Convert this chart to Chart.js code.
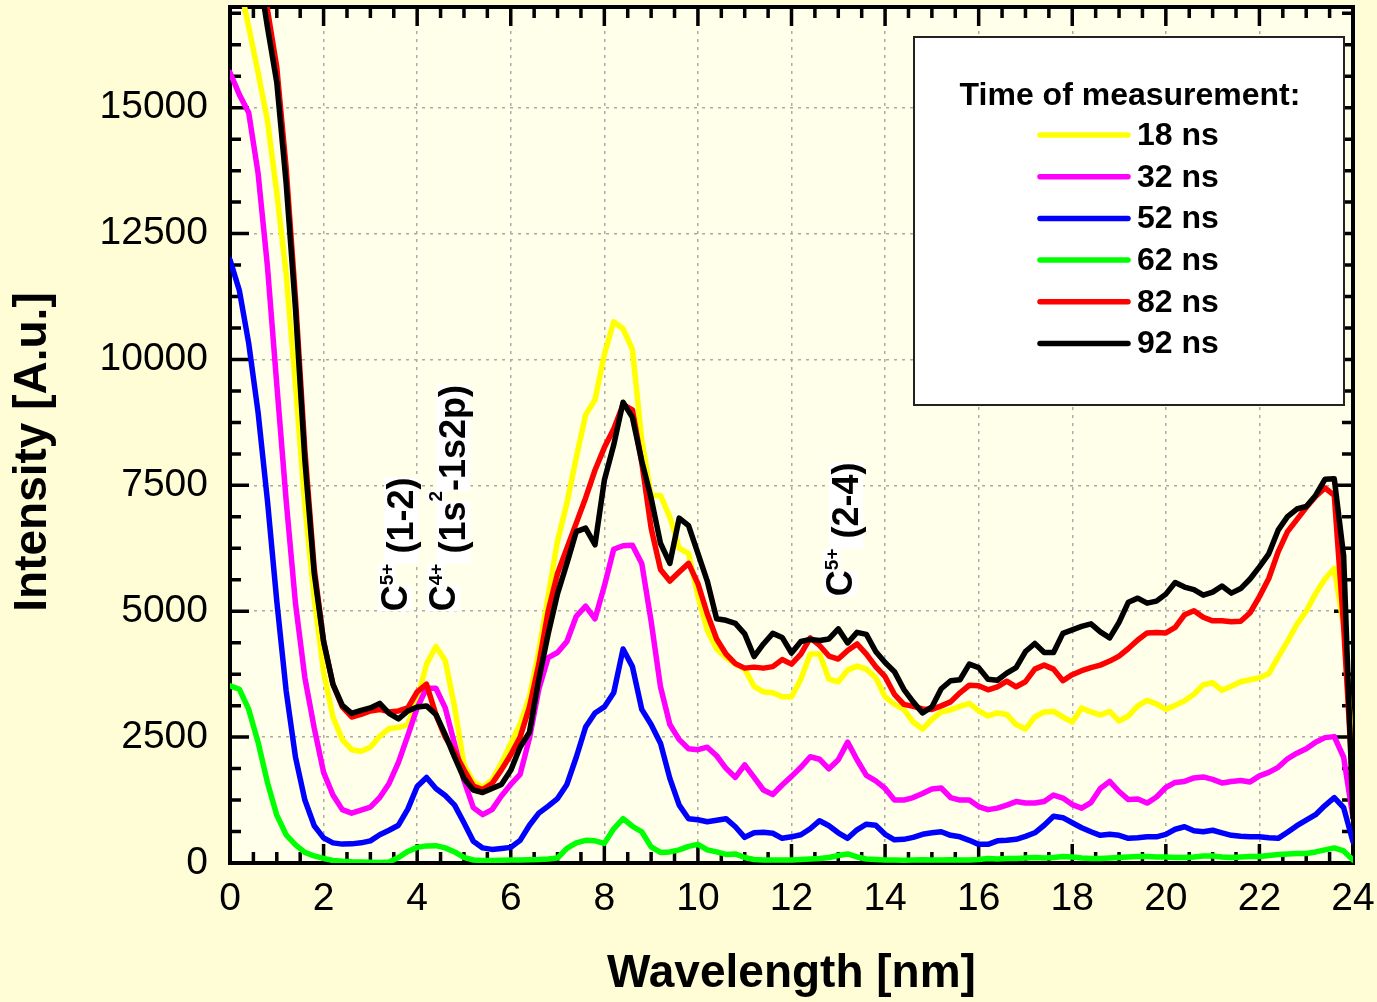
<!DOCTYPE html>
<html>
<head>
<meta charset="utf-8">
<title>Intensity x Wavelength</title>
<script src="https://cdn.jsdelivr.net/npm/chart.js@4.4.0/dist/chart.umd.min.js"></script>
<style>
  body { margin: 0; background: #fffdd5; }
  #grafico { display: block; }
</style>
</head>
<body>
<canvas id="grafico" width="1377" height="1002"></canvas>
<script>
// eixo x: comprimento de onda [nm], passo 0.2
var wavelength = [
  0.0, 0.2, 0.4, 0.6, 0.8,  1.0, 1.2, 1.4, 1.6, 1.8,  2.0, 2.2, 2.4, 2.6, 2.8,
  3.0, 3.2, 3.4, 3.6, 3.8,  4.0, 4.2, 4.4, 4.6, 4.8,  5.0, 5.2, 5.4, 5.6, 5.8,
  6.0, 6.2, 6.4, 6.6, 6.8,  7.0, 7.2, 7.4, 7.6, 7.8,  8.0, 8.2, 8.4, 8.6, 8.8,
  9.0, 9.2, 9.4, 9.6, 9.8,  10.0, 10.2, 10.4, 10.6, 10.8,  11.0, 11.2, 11.4, 11.6, 11.8,
  12.0, 12.2, 12.4, 12.6, 12.8,  13.0, 13.2, 13.4, 13.6, 13.8,  14.0, 14.2, 14.4, 14.6, 14.8,
  15.0, 15.2, 15.4, 15.6, 15.8,  16.0, 16.2, 16.4, 16.6, 16.8,  17.0, 17.2, 17.4, 17.6, 17.8,
  18.0, 18.2, 18.4, 18.6, 18.8,  19.0, 19.2, 19.4, 19.6, 19.8,  20.0, 20.2, 20.4, 20.6, 20.8,
  21.0, 21.2, 21.4, 21.6, 21.8,  22.0, 22.2, 22.4, 22.6, 22.8,  23.0, 23.2, 23.4, 23.6, 23.8,
  24.0
];

// intensidades [A.u.] (uma linha por nm)
var ns18 = [
  18800, 17500, 16600, 15700, 14750,
  13310, 11700, 9500, 7100, 5250,
  3800, 2900, 2450, 2250, 2220,
  2300, 2520, 2670, 2690, 2750,
  3250, 3950, 4300, 4020, 3100,
  1950, 1610, 1500, 1650, 1980,
  2370, 2760, 3300, 4200, 5300,
  6400, 7150, 8050, 8900, 9200,
  10100, 10750, 10610, 10200, 8400,
  7300, 7300, 6870, 6250, 6150,
  5300, 4620, 4250, 4080, 3950,
  3850, 3510, 3400, 3380, 3300,
  3300, 3650, 4150, 4150, 3650,
  3600, 3830, 3910, 3850, 3680,
  3300, 3150, 3050, 2800, 2660,
  2850, 3000, 3040, 3110, 3170,
  3020, 2920, 2980, 2950, 2750,
  2660, 2900, 3000, 3010, 2900,
  2800, 3080, 3000, 2940, 3010,
  2820, 2920, 3120, 3230, 3160,
  3050, 3130, 3220, 3350, 3540,
  3580, 3430, 3510, 3600, 3640,
  3680, 3760, 4090, 4400, 4740,
  5000, 5350, 5640, 5850, 4700,
  2000
];
var ns32 = [
  15700, 15260, 14900, 13700, 11850,
  9500, 7200, 5150, 3680, 2680,
  1800, 1350, 1060, 990, 1050,
  1110, 1300, 1580, 2000, 2530,
  3080, 3470, 3470, 3080, 2360,
  1640, 1100, 960, 1060, 1330,
  1560, 1760, 2480, 3450, 4080,
  4180, 4400, 4900, 5100, 4850,
  5500, 6230, 6300, 6310, 5950,
  4800, 3500, 2750, 2450, 2270,
  2250, 2300, 2130, 1880, 1700,
  1950, 1700, 1450, 1360, 1550,
  1720, 1900, 2110, 2060, 1870,
  2050, 2400, 2050, 1740, 1630,
  1480, 1250, 1250, 1300, 1380,
  1470, 1490, 1300, 1250, 1250,
  1120, 1060, 1090, 1150, 1220,
  1190, 1190, 1220, 1350, 1290,
  1160, 1090, 1200, 1480, 1620,
  1420, 1260, 1270, 1190, 1310,
  1500, 1600, 1620, 1690, 1710,
  1660, 1590, 1620, 1640, 1610,
  1730, 1800, 1900, 2070, 2180,
  2270, 2400, 2490, 2510, 2100,
  900
];
var ns52 = [
  11980, 11370, 10320, 8950, 7200,
  5200, 3420, 2100, 1250, 740,
  500, 400, 375, 380, 400,
  440, 560, 650, 750, 1070,
  1520, 1700, 1480, 1340, 1150,
  800, 430, 300, 270, 290,
  310, 450, 750, 990, 1130,
  1280, 1560, 2100, 2700, 2980,
  3100, 3380, 4250, 3900, 3050,
  2750, 2380, 1680, 1150, 880,
  860, 820, 850, 880, 720,
  510, 600, 610, 590, 490,
  520, 560, 680, 840, 740,
  600, 490, 660, 770, 750,
  570, 460, 470, 510, 570,
  600, 620, 550, 520, 450,
  370, 370, 440, 450, 470,
  530, 600, 750, 930, 900,
  800, 700, 620, 550, 570,
  550, 490, 500, 520, 520,
  570, 670, 720, 640, 620,
  650, 600, 550, 530, 520,
  520, 500, 490, 610, 740,
  850, 960, 1140, 1300, 1100,
  420
];
var ns62 = [
  3520, 3450, 3050, 2400, 1600,
  950, 560, 360, 210, 140,
  90, 50, 35, 25, 20,
  15, 10, 20, 110, 230,
  310, 340, 345, 300, 220,
  110, 60, 50, 50, 55,
  60, 60, 65, 70, 80,
  100, 290, 400, 450, 440,
  390, 680, 880, 730, 620,
  320, 210, 220, 260, 330,
  370, 260, 220, 170, 180,
  110, 70, 60, 60, 60,
  60, 70, 80, 90, 110,
  150, 180, 120, 80, 70,
  60, 60, 55, 60, 65,
  60, 60, 65, 60, 60,
  70, 90, 80, 90, 90,
  100, 110, 100, 110, 130,
  120, 100, 90, 90, 100,
  110, 120, 130, 130, 120,
  120, 110, 110, 120, 140,
  140, 120, 110, 120, 130,
  130, 150, 170, 180, 190,
  190, 220, 260, 300, 240,
  60
];
var ns82 = [
  23000, 21500, 20000, 18400, 16950,
  15800, 13800, 11200, 8200, 5850,
  4400, 3550, 3100, 2900, 2950,
  3020, 3050, 3000, 3020, 3080,
  3400, 3550, 2950, 2500, 2200,
  1850, 1530, 1460, 1580, 1850,
  2150, 2500, 3100, 3950, 5000,
  5750, 6250, 6750, 7250, 7800,
  8250, 8620, 9100, 9000, 7950,
  6650, 5830, 5600, 5780, 5950,
  5550, 4950, 4450, 4150, 3960,
  3870, 3890, 3870, 3900, 4040,
  3950, 4150, 4470, 4320, 4110,
  4050, 4220, 4350, 4150, 3900,
  3700, 3350, 3150, 3110, 3060,
  3050, 3120, 3200, 3380, 3530,
  3520, 3440, 3500, 3610, 3500,
  3600, 3850, 3930, 3850, 3620,
  3740, 3820, 3880, 3930, 4010,
  4110, 4260, 4430, 4570, 4580,
  4570, 4680, 4930, 5010, 4880,
  4810, 4810, 4790, 4800, 4970,
  5290, 5650, 6180, 6580, 6820,
  7060, 7280, 7450, 7300, 4700,
  1500
];
var ns92 = [
  22000, 20600, 19200, 17800, 16600,
  15500, 13500, 11000, 8000, 5750,
  4400, 3550, 3130, 2970, 3030,
  3080, 3170, 2970, 2860, 3020,
  3100, 3120, 2950, 2550, 2100,
  1680, 1450, 1400, 1480, 1560,
  1840, 2300, 2600, 3650, 4550,
  5350, 5950, 6580, 6650, 6320,
  7600, 8300, 9150, 8850, 7980,
  7250, 6350, 5950, 6850, 6700,
  6150, 5600, 4850, 4820, 4760,
  4550, 4100, 4350, 4560, 4480,
  4170, 4400, 4440, 4420, 4450,
  4650, 4370, 4580, 4540, 4200,
  3980, 3800, 3450, 3200, 2980,
  3100, 3460, 3620, 3640, 3950,
  3880, 3650, 3630, 3770, 3880,
  4200, 4360, 4180, 4180, 4560,
  4630, 4700, 4750, 4590, 4470,
  4780, 5180, 5260, 5160, 5200,
  5340, 5570, 5480, 5430, 5320,
  5380, 5500, 5360, 5450, 5640,
  5880, 6140, 6610, 6880, 7030,
  7080, 7300, 7620, 7630, 6100,
  900
];

var series = [ns18, ns32, ns52, ns62, ns82, ns92];
var legendas = ['18 ns', '32 ns', '52 ns', '62 ns', '82 ns', '92 ns'];
var cores = ['#ffff00', '#ff00ff', '#0000ff', '#00ff00', '#ff0000', '#000000'];

var xTicks = [0, 2, 4, 6, 8, 10, 12, 14, 16, 18, 20, 22, 24];
var yTicks = [0, 2500, 5000, 7500, 10000, 12500, 15000];

var FONTE = "'Liberation Sans', Arial, sans-serif";

// textos das linhas espectrais: [texto, superscrito?, deslocamento da linha base]
var anotacoes = [
  { x: 3.78, y: 5000, partes: [['C', 0, 0], ['5+', 1, -14], [' (1-2)', 0, 6]] },
  { x: 4.81, y: 5000, partes: [['C', 0, 0], ['4+', 1, -13], [' (1s', 0, 10], ['2', 1, -13], ['-1s2p)', 0, 10]] },
  { x: 13.29, y: 5300, partes: [['C', 0, 0], ['5+', 1, -14], [' (2-4)', 0, 6]] }
];

function montaDatasets() {
  var lista = [];
  for (var i = 0; i < series.length; i++) {
    var pontos = series[i].map(function (v, k) { return { x: wavelength[k], y: v }; });
    lista.push({
      label: legendas[i],
      data: pontos,
      borderColor: cores[i],
      backgroundColor: cores[i],
      borderWidth: 5.5,
      pointRadius: 0,
      tension: 0,
      fill: false,
      borderJoinStyle: 'round',
      borderCapStyle: 'round',
      order: series.length - i   // preto por cima
    });
  }
  return lista;
}

var fundo = {
  id: 'fundo',
  beforeDraw: function (chart) {
    var ctx = chart.ctx, a = chart.chartArea;
    ctx.save();
    ctx.fillStyle = '#fffdd5';
    ctx.fillRect(0, 0, chart.width, chart.height);
    ctx.fillStyle = '#ffffea';
    ctx.fillRect(a.left, a.top, a.right - a.left, a.bottom - a.top);
    ctx.restore();
  }
};

// moldura com tracos para dentro nos quatro lados + titulo do eixo y
var moldura = {
  id: 'moldura',
  beforeDatasetsDraw: function (chart) {
    var ctx = chart.ctx, a = chart.chartArea;
    var sx = chart.scales.x, sy = chart.scales.y;
    ctx.save();
    ctx.strokeStyle = '#000';
    ctx.lineWidth = 3.5;
    ctx.beginPath();
    for (var v = 0; v <= 24.001; v += 0.5) {
      var px = sx.getPixelForValue(v);
      var len = (Math.abs(v / 2 - Math.round(v / 2)) < 1e-6) ? 19 : 11;
      ctx.moveTo(px, a.bottom); ctx.lineTo(px, a.bottom - len);
      ctx.moveTo(px, a.top); ctx.lineTo(px, a.top + len);
    }
    for (var w = 0; w <= 17000; w += 625) {
      var py = sy.getPixelForValue(w);
      var len2 = (w % 2500 === 0) ? 19 : 11;
      ctx.moveTo(a.left, py); ctx.lineTo(a.left + len2, py);
      ctx.moveTo(a.right, py); ctx.lineTo(a.right - len2, py);
    }
    ctx.stroke();
    ctx.lineWidth = 4;
    ctx.strokeRect(a.left, a.top, a.right - a.left, a.bottom - a.top);

    ctx.translate(33, 452);
    ctx.rotate(-Math.PI / 2);
    ctx.fillStyle = '#000';
    ctx.font = 'bold 46px ' + FONTE;
    ctx.textAlign = 'center';
    ctx.textBaseline = 'middle';
    ctx.fillText('Intensity [A.u.]', 0, 0);
    ctx.restore();
  }
};

function desenhaAnotacao(ctx, px, py, partes) {
  ctx.save();
  ctx.translate(px, py);
  ctx.rotate(-Math.PI / 2);
  ctx.textBaseline = 'alphabetic';
  ctx.textAlign = 'left';
  var pos = 0;
  partes.forEach(function (p) {
    var tam = p[1] ? 19 : 36;
    ctx.font = 'bold ' + tam + 'px ' + FONTE;
    var larg = ctx.measureText(p[0]).width;
    ctx.fillStyle = '#ffffff';
    ctx.fillRect(pos, p[2] - tam * 0.8, larg, tam * 0.95);
    ctx.fillStyle = '#000';
    ctx.fillText(p[0], pos, p[2]);
    pos += larg;
  });
  ctx.restore();
}

var textos = {
  id: 'textos',
  afterDatasetsDraw: function (chart) {
    var sx = chart.scales.x, sy = chart.scales.y;
    anotacoes.forEach(function (an) {
      desenhaAnotacao(chart.ctx, sx.getPixelForValue(an.x), sy.getPixelForValue(an.y), an.partes);
    });
  }
};

var legenda = {
  id: 'legenda',
  afterDraw: function (chart) {
    var ctx = chart.ctx;
    ctx.save();
    ctx.fillStyle = '#ffffff';
    ctx.fillRect(914, 37, 430, 368);
    ctx.strokeStyle = '#222';
    ctx.lineWidth = 2;
    ctx.strokeRect(914, 37, 430, 368);
    ctx.fillStyle = '#000';
    ctx.font = 'bold 32px ' + FONTE;
    ctx.textAlign = 'center';
    ctx.textBaseline = 'alphabetic';
    ctx.fillText('Time of measurement:', 1130, 105);
    ctx.textAlign = 'left';
    ctx.textBaseline = 'middle';
    chart.data.datasets.forEach(function (ds, i) {
      var yy = 135 + i * 41.7;
      ctx.strokeStyle = ds.borderColor;
      ctx.lineWidth = 5.5;
      ctx.lineCap = 'round';
      ctx.beginPath();
      ctx.moveTo(1040, yy);
      ctx.lineTo(1128, yy);
      ctx.stroke();
      ctx.fillText(ds.label, 1137, yy + 1);
    });
    ctx.restore();
  }
};

var config = {
  type: 'line',
  data: { datasets: montaDatasets() },
  options: {
    responsive: false,
    animation: false,
    layout: { padding: { top: 7, right: 24, left: 0, bottom: 0 } },
    plugins: {
      legend: { display: false },
      tooltip: { enabled: false }
    },
    scales: {
      x: {
        type: 'linear',
        min: 0,
        max: 24,
        afterBuildTicks: function (s) { s.ticks = xTicks.map(function (v) { return { value: v }; }); },
        afterFit: function (s) { s.height = 139; s.paddingLeft = 0; s.paddingRight = 0; },
        ticks: {
          font: { family: FONTE, size: 39 }, color: '#000', padding: 13, maxRotation: 0, autoSkip: false,
          callback: function (v) { return String(v); }
        },
        grid: { color: '#aaaaaa', lineWidth: 1.5, drawTicks: false },
        border: { display: false, dash: [3, 5] },
        title: {
          display: true,
          text: 'Wavelength [nm]',
          color: '#000',
          font: { family: FONTE, size: 46, weight: 'bold' },
          padding: { top: 0, bottom: 0 }
        }
      },
      y: {
        type: 'linear',
        min: 0,
        max: 17000,
        afterBuildTicks: function (s) { s.ticks = yTicks.map(function (v) { return { value: v }; }); },
        afterFit: function (s) { s.width = 230; s.paddingTop = 0; s.paddingBottom = 0; },
        ticks: {
          font: { family: FONTE, size: 39 }, color: '#000', padding: 22,
          callback: function (v) { return String(v); }   // sem separador de milhar
        },
        grid: { color: '#aaaaaa', lineWidth: 1.5, drawTicks: false },
        border: { display: false, dash: [3, 5] }
      }
    }
  },
  plugins: [fundo, moldura, textos, legenda]
};

var ctx = document.getElementById('grafico').getContext('2d');
window.grafico = new Chart(ctx, config);
</script>
</body>
</html>
